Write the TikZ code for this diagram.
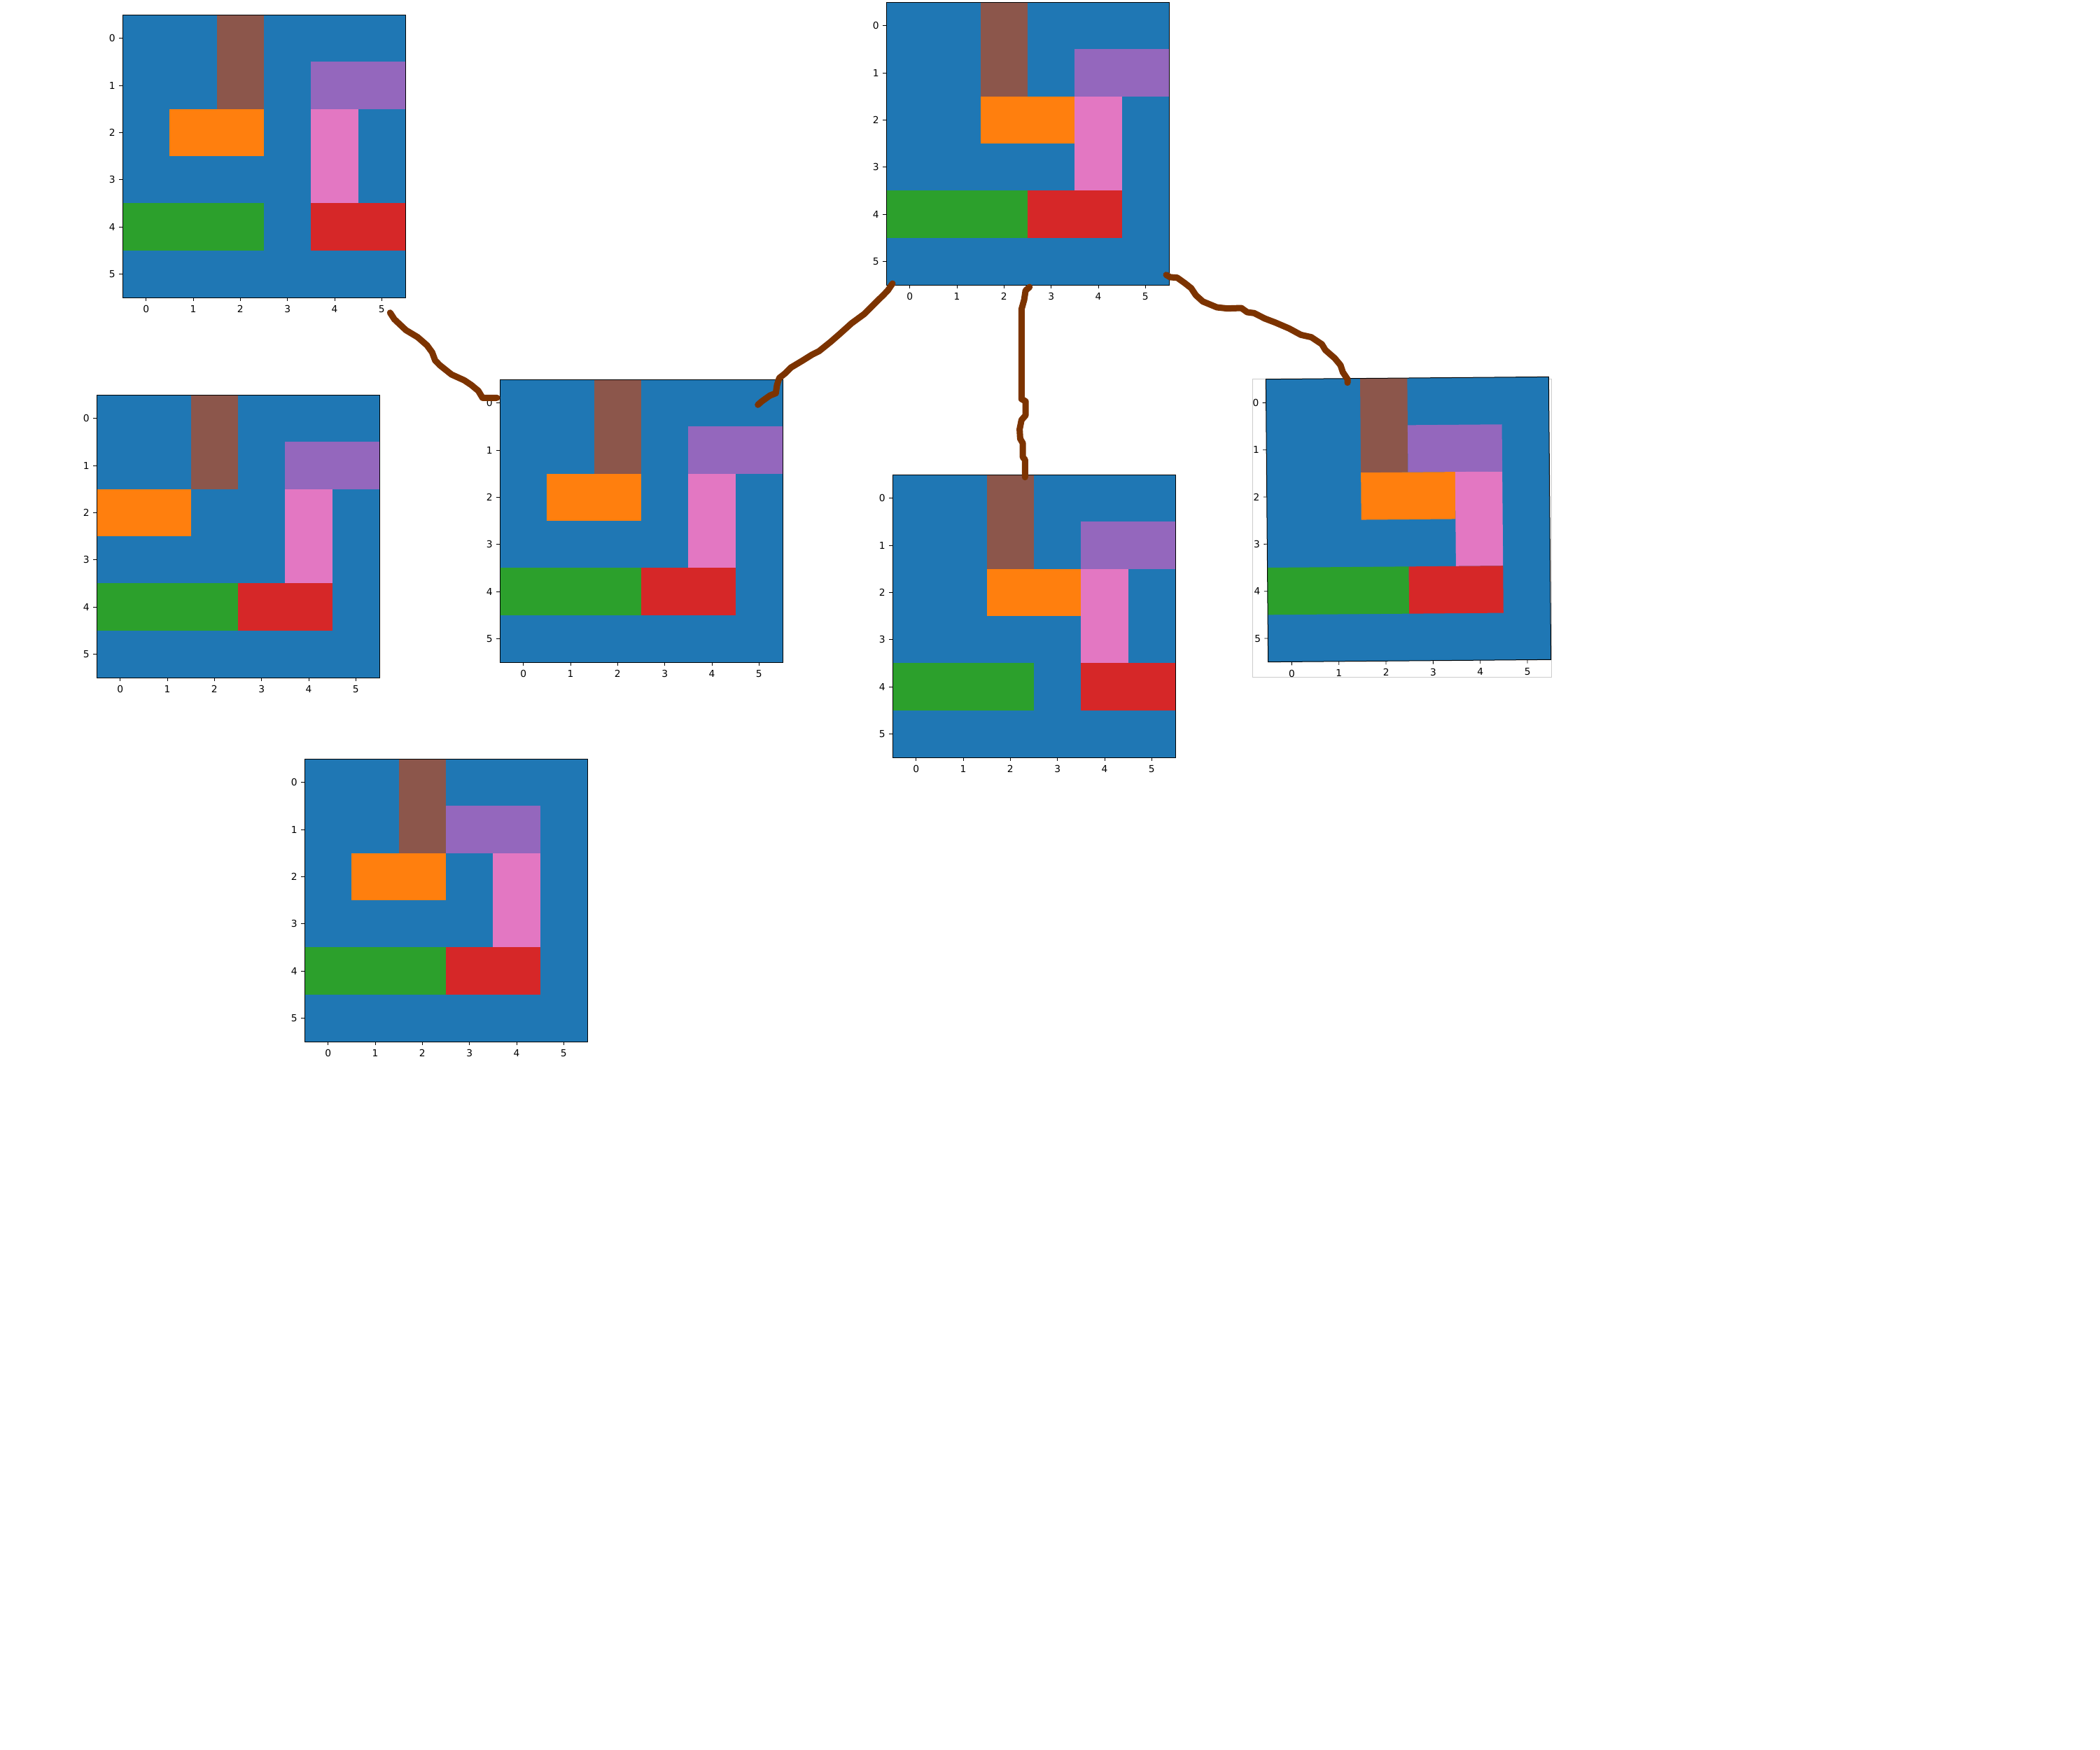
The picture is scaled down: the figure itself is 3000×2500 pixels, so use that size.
\documentclass[tikz,border=0pt]{standalone}
\usepackage{fontspec}
\setmainfont{DejaVu Sans}
\definecolor{tblue}{HTML}{1F77B4}
\definecolor{torange}{HTML}{FF7F0E}
\definecolor{tgreen}{HTML}{2CA02C}
\definecolor{tred}{HTML}{D62728}
\definecolor{tpurple}{HTML}{9467BD}
\definecolor{tbrown}{HTML}{8C564B}
\definecolor{tpink}{HTML}{E377C2}
\definecolor{connbrown}{HTML}{7C3300}
\tikzset{
  conn/.style={draw=connbrown, line width=4.5pt, line cap=round, line join=round},
  ticklab/.style={font=\fontsize{6.9}{8}\selectfont, inner sep=0pt, text=black},
  plotframe/.style={minimum width=202pt, minimum height=202pt, inner sep=0pt, draw=none},
  spine/.style={draw=black, line width=0.5pt},
  tickmark/.style={draw=black, line width=0.4pt}
}
\newcommand\gcell[5]{\fill[#1] (#2,#3) rectangle (#4,#5);}
\newcommand\gridaxes[5][]{%
  \begin{scope}[#1]
    \node[plotframe] (#2) at ({#3+202},{#4+202}) {};
    \begin{scope}[shift={(#3,#4)},x=33.6667pt,y=-33.6667pt]
      \fill[tblue] (0,0) rectangle (6,6);
      #5
      \draw[spine] (0,0) rectangle (6,6);
      \foreach \i in {0,...,5}{
        \draw[tickmark] (\i+0.5,6) -- ++(0pt,-2.5pt);
        \path (\i+0.5,6) ++(0pt,-5.5pt) node[ticklab,anchor=north] {\i};
        \draw[tickmark] (0,\i+0.5) -- ++(-2.5pt,0pt);
        \path (0,\i+0.5) ++(-5pt,0pt) node[ticklab,anchor=east] {\i};
      }
    \end{scope}
  \end{scope}}
\begin{document}
\begin{tikzpicture}[x=0.5pt,y=-0.5pt]
\useasboundingbox (0,0) rectangle (3000,2500);
\fill[white] (0,0) rectangle (3000,2500);

% A (top left)
\gridaxes{A}{175}{21}{%
  \gcell{tbrown}{2}{0}{3}{2}\gcell{tpurple}{4}{1}{6}{2}\gcell{torange}{1}{2}{3}{3}%
  \gcell{tpink}{4}{2}{5}{4}\gcell{tgreen}{0}{4}{3}{5}\gcell{tred}{4}{4}{6}{5}}
% B (left middle)
\gridaxes{B}{138}{564}{%
  \gcell{tbrown}{2}{0}{3}{2}\gcell{tpurple}{4}{1}{6}{2}\gcell{torange}{0}{2}{2}{3}%
  \gcell{tpink}{4}{2}{5}{4}\gcell{tgreen}{0}{4}{3}{5}\gcell{tred}{3}{4}{5}{5}}
% C (center)
\gridaxes{C}{714}{542}{%
  \gcell{tbrown}{2}{0}{3}{2}\gcell{tpurple}{4}{1}{6}{2}\gcell{torange}{1}{2}{3}{3}%
  \gcell{tpink}{4}{2}{5}{4}\gcell{tgreen}{0}{4}{3}{5}\gcell{tred}{3}{4}{5}{5}}
% D (top center)
\gridaxes{D}{1266}{3}{%
  \gcell{tbrown}{2}{0}{3}{2}\gcell{tpurple}{4}{1}{6}{2}\gcell{torange}{2}{2}{4}{3}%
  \gcell{tpink}{4}{2}{5}{4}\gcell{tgreen}{0}{4}{3}{5}\gcell{tred}{3}{4}{5}{5}}
% E (below D)
\gridaxes{E}{1275}{678}{%
  \gcell{tbrown}{2}{0}{3}{2}\gcell{tpurple}{4}{1}{6}{2}\gcell{torange}{2}{2}{4}{3}%
  \gcell{tpink}{4}{2}{5}{4}\gcell{tgreen}{0}{4}{3}{5}\gcell{tred}{4}{4}{6}{5}}
% F (right, slightly rotated)
\draw[black!20, fill=white, line width=0.5pt] (1789,541) rectangle (2216,967);
\gridaxes[rotate around={0.47:(2012,742)}, transform shape]{F}{1810}{540}{%
  \gcell{tbrown}{2}{0}{3}{2}\gcell{tpurple}{3}{1}{5}{2}\gcell{torange}{2}{2}{4}{3}%
  \gcell{tpink}{4}{2}{5}{4}\gcell{tgreen}{0}{4}{3}{5}\gcell{tred}{3}{4}{5}{5}}
% G (bottom)
\gridaxes{G}{435}{1084}{%
  \gcell{tbrown}{2}{0}{3}{2}\gcell{tpurple}{3}{1}{5}{2}\gcell{torange}{1}{2}{3}{3}%
  \gcell{tpink}{4}{2}{5}{4}\gcell{tgreen}{0}{4}{3}{5}\gcell{tred}{3}{4}{5}{5}}

% connector end points
\coordinate (ac0) at (557.3,446.7);
\coordinate (ac1) at (710,568.3);
\coordinate (cd0) at (1082.7,578.3);
\coordinate (cd1) at (1275,405);
\coordinate (de0) at (1470.8,410);
\coordinate (de1) at (1464.3,681.7);
\coordinate (df0) at (1666,392.7);
\coordinate (df1) at (1925,546.7);

% A -> C
\draw[conn] (ac0) -- (563.3,456) -- (580,471.7) -- (596.7,481.7) -- (610,493.3)
  -- (617.3,503.3) -- (621.7,515) -- (628.3,521.7) -- (645,535) -- (663.3,543.3)
  -- (673.3,550) -- (683.3,558.3) -- (689.3,568.3) -- (ac1);
% C -> D
\draw[conn] (cd0) -- (1088.3,573.3) -- (1100,565) -- (1108.3,561.7) -- (1110,550)
  -- (1113.3,540) -- (1121.7,533.3) -- (1130,525) -- (1146.7,515) -- (1160,506.7)
  -- (1170,501.7) -- (1186.7,488.3) -- (1200,476.7) -- (1216.7,461.7) -- (1235,448.3)
  -- (1243.3,440) -- (1253.3,430) -- (1261.7,421.7) -- (1268.3,415) -- (cd1);
% D -> E
\draw[conn] (de0) -- (1465.1,415) -- (1463.1,428.3) -- (1459.3,441.7) -- (1459.3,570)
  -- (1465.1,573.3) -- (1465.1,593.3) -- (1459.3,600) -- (1456.6,613.3) -- (1457.4,626.7)
  -- (1461.2,633.3) -- (1461.2,653.3) -- (1464.3,656.7) -- (de1);
% D -> F
\draw[conn] (df0) -- (1671.7,396) -- (1681.7,396.7) -- (1693.3,405) -- (1701.7,411.7)
  -- (1708.3,421.7) -- (1718.3,430.7) -- (1738.3,439) -- (1753.3,440.7) -- (1773.3,440)
  -- (1781.7,446) -- (1791.7,447.3) -- (1806.7,455) -- (1821.7,460.7) -- (1841.7,469.3)
  -- (1858.3,478.3) -- (1873.3,481.7) -- (1888.3,491.7) -- (1893.3,500) -- (1906.7,511.7)
  -- (1915,521.7) -- (1918.3,531.7) -- (1925,541.7) -- (df1);
\end{tikzpicture}
\end{document}
